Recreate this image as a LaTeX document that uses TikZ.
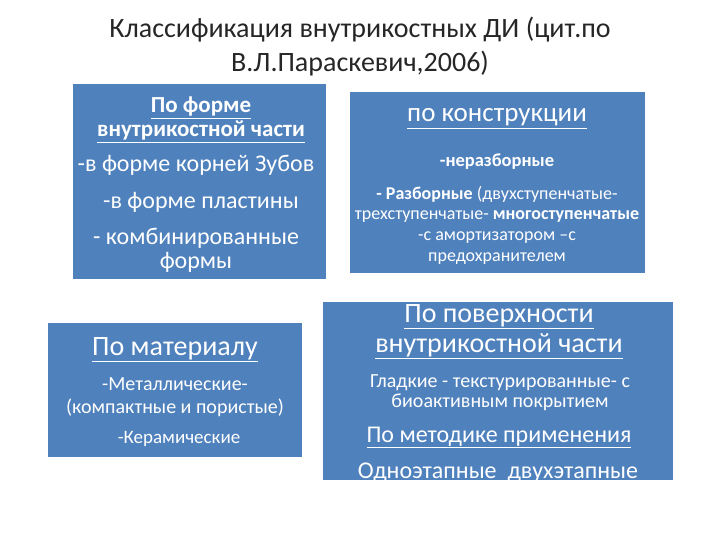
\documentclass[tikz,border=0pt]{standalone}
\usepackage{fontspec}
\setmainfont{Carlito}

\definecolor{boxblue}{HTML}{4F81BD}

\begin{document}
\begin{tikzpicture}[x=1pt,y=-1pt]
\tikzset{
  box/.style={fill=boxblue},
  txt/.style={text=white, align=center, inner sep=0pt, anchor=base},
  ttl/.style={text=black!85, align=center, inner sep=0pt, anchor=base}
}
\useasboundingbox (0,0) rectangle (720,540);

% Title (base = last line)
\node[ttl, font=\fontsize{28}{34}\selectfont] (title) at (360,72) {Классификация внутрикостных ДИ (цит.по\\В.Л.Параскевич,2006)};

% Define the box corners
\coordinate (b1a) at (73,84);   \coordinate (b1b) at (326,279);
\coordinate (b2a) at (350,92);  \coordinate (b2b) at (645,273);
\coordinate (b3a) at (48,323);  \coordinate (b3b) at (302,457);
\coordinate (b4a) at (323,302); \coordinate (b4b) at (673,480);

% Draw the boxes
\fill[box] (b1a) rectangle (b1b);
\fill[box] (b2a) rectangle (b2b);
\fill[box] (b3a) rectangle (b3b);
\fill[box] (b4a) rectangle (b4b);

% Shape of the intraosseous part
\node[txt, font=\fontsize{23}{24}\selectfont\bfseries] (shape) at (201,137) {\underline{По форме}\\\underline{внутрикостной части}};
\node[txt, font=\fontsize{24}{24}\selectfont] (roots) at (196,172) {-в форме корней Зубов};
\node[txt, font=\fontsize{24}{24}\selectfont] (plate) at (201,208) {-в форме пластины};
\node[txt, font=\fontsize{24}{24}\selectfont] (combo) at (196,268) {- комбинированные\\формы};

% Construction
\node[txt, font=\fontsize{27}{27}\selectfont] (constr) at (497,122) {\underline{по конструкции}};
\node[txt, font=\fontsize{18.5}{20}\selectfont\bfseries] (nondis) at (497,167) {-неразборные};
\node[txt, font=\fontsize{18}{20.5}\selectfont] (dis) at (497,261) {\textbf{- Разборные} (двухступенчатые-\\трехступенчатые- \textbf{многоступенчатые}\\-с амортизатором –с\\предохранителем};

% Material
\node[txt, font=\fontsize{28}{28}\selectfont] (mat) at (175,355) {\underline{По материалу}};
\node[txt, font=\fontsize{20}{23}\selectfont] (metal) at (175,413) {-Металлические-\\(компактные и пористые)};
\node[txt, font=\fontsize{19}{19}\selectfont] (ceram) at (179,443) {-Керамические};

% Surface and method
\node[txt, font=\fontsize{28}{30}\selectfont] (surf) at (499,352) {\underline{По поверхности}\\\underline{внутрикостной части}};
\node[txt, font=\fontsize{20}{19.5}\selectfont] (smooth) at (500,407) {Гладкие - текстурированные- с\\биоактивным покрытием};
\node[txt, font=\fontsize{24}{24}\selectfont] (method) at (499,442) {\underline{По методике применения}};
\node[txt, font=\fontsize{24}{24}\selectfont] (stage) at (498,478) {Одноэтапные\ \ двухэтапные};

\end{tikzpicture}
\end{document}
